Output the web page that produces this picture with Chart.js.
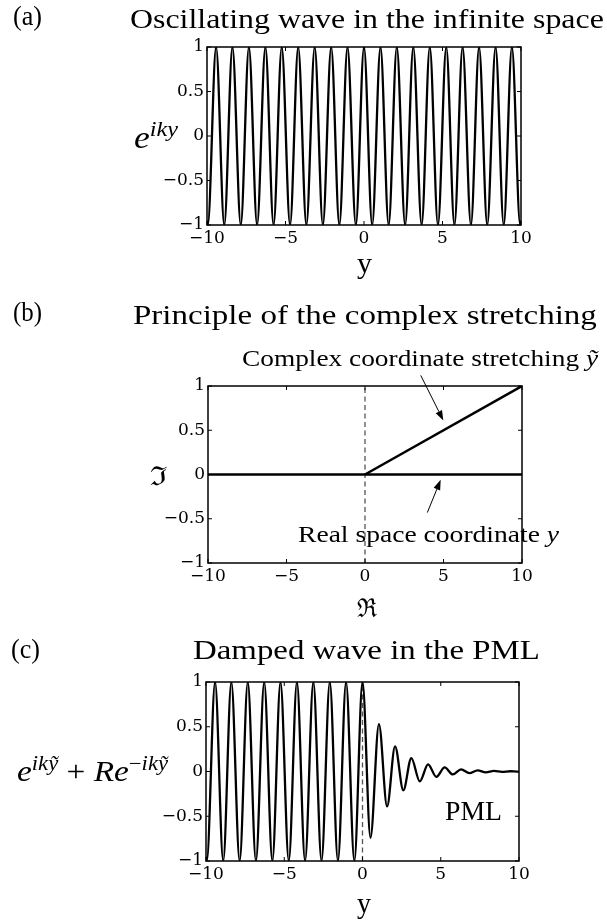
<!DOCTYPE html>
<html>
<head>
<meta charset="utf-8">
<script src="https://cdn.jsdelivr.net/npm/chart.js@4.4.0/dist/chart.umd.min.js"></script>
<style>
  html, body { margin: 0; padding: 0; background: #fff; }
  #figura { position: relative; width: 607px; height: 922px; overflow: hidden; background: #fff; }
  #figura canvas { position: absolute; left: 0; }
  .rotulo { position: absolute; white-space: nowrap; line-height: 1; font-family: "Liberation Serif", serif; color: #000; transform-origin: 0 0; z-index: 2; }
  .rotulo sup { font-size: 0.68em; vertical-align: baseline; position: relative; top: -0.55em; line-height: 0; }
</style>
</head>
<body>
<div id="figura">
  <canvas id="grafico-a" width="607" height="290" style="top:0px"></canvas>
  <canvas id="grafico-b" width="607" height="330" style="top:300px"></canvas>
  <canvas id="grafico-c" width="607" height="292" style="top:630px"></canvas>
</div>
<script>
// Marcas dos eixos (iguais nos tres paineis)
const ticksX = [-10, -5, 0, 5, 10];
const ticksY = [-1, -0.5, 0, 0.5, 1];

// (a) onda oscilante: extremos
const ondaX = [-10, -9.95, -9.42, -8.90, -8.38, -7.85, -7.33, -6.81, -6.28, -5.76, -5.24,
  -4.71, -4.19, -3.67, -3.14, -2.62, -2.09, -1.57, -1.05, -0.52, 0,
  0.52, 1.05, 1.57, 2.09, 2.62, 3.14, 3.67, 4.19, 4.71, 5.24,
  5.76, 6.28, 6.81, 7.33, 7.85, 8.38, 8.90, 9.42, 9.95, 10];
const ondaY = [-0.95, -1, 1, -1, 1, -1, 1, -1, 1, -1, 1,
  -1, 1, -1, 1, -1, 1, -1, 1, -1, 1,
  -1, 1, -1, 1, -1, 1, -1, 1, -1, 1,
  -1, 1, -1, 1, -1, 1, -1, 1, -1, -0.95];

// (b) estiramento complexo
const realX = [-10, 10];
const realY = [0, 0];
const esticadoX = [0, 10];
const esticadoY = [0, 1];
const zeroX = [0, 0];
const zeroY = [-1, 1];

// (c) onda amortecida na PML
const pmlX = [-10, -9.95, -9.42, -8.90, -8.38, -7.85, -7.33, -6.81, -6.28, -5.76, -5.24,
  -4.71, -4.19, -3.67, -3.14, -2.62, -2.09, -1.57, -1.05, -0.52, 0,
  0.51, 1.05, 1.57, 2.08, 2.61, 3.12, 3.66, 4.19, 4.72, 5.25,
  5.77, 6.30, 6.83, 7.36, 7.88, 8.40, 8.92, 9.44, 9.95, 10];
const pmlY = [-0.95, -1, 1, -1, 1, -1, 1, -1, 1, -1, 1,
  -1, 1, -1, 1, -1, 1, -1, 1, -1, 1,
  -0.74, 0.53, -0.39, 0.28, -0.21, 0.15, -0.11, 0.08, -0.06, 0.045,
  -0.033, 0.024, -0.018, 0.013, -0.009, 0.006, -0.004, 0.003, -0.002, 0];

// Setas das anotacoes do painel (b), em unidades dos eixos
const setasB = [
  { de: [3.55, 1.12], para: [4.99, 0.61] },
  { de: [3.97, -0.43], para: [4.82, -0.06] }
];

function pontos(xs, ys) {
  return xs.map((v, i) => ({ x: v, y: ys[i] }));
}

function formatarTick(v) {
  return String(v).replace('-', '\u2212');
}

// Caixa do eixo com marcas para dentro nos quatro lados
const caixaPlugin = {
  id: 'caixa',
  afterDatasetsDraw(chart) {
    const { ctx, chartArea: a, scales: { x, y } } = chart;
    const tam = 4;
    ctx.save();
    ctx.strokeStyle = '#000';
    ctx.lineWidth = 1;
    ctx.beginPath();
    x.ticks.forEach(t => {
      const px = x.getPixelForValue(t.value);
      ctx.moveTo(px, a.bottom); ctx.lineTo(px, a.bottom - tam);
      ctx.moveTo(px, a.top); ctx.lineTo(px, a.top + tam);
    });
    y.ticks.forEach(t => {
      const py = y.getPixelForValue(t.value);
      ctx.moveTo(a.left, py); ctx.lineTo(a.left + tam, py);
      ctx.moveTo(a.right, py); ctx.lineTo(a.right - tam, py);
    });
    ctx.stroke();
    ctx.lineWidth = 1.5;
    ctx.strokeRect(a.left, a.top, a.right - a.left, a.bottom - a.top);
    ctx.restore();
  }
};

const setasPlugin = {
  id: 'setas',
  afterDraw(chart, args, opts) {
    if (!opts.lista) return;
    const { ctx, scales: { x, y } } = chart;
    ctx.save();
    ctx.strokeStyle = '#000';
    ctx.fillStyle = '#000';
    ctx.lineWidth = 1;
    opts.lista.forEach(s => {
      const x0 = x.getPixelForValue(s.de[0]), y0 = y.getPixelForValue(s.de[1]);
      const x1 = x.getPixelForValue(s.para[0]), y1 = y.getPixelForValue(s.para[1]);
      const ang = Math.atan2(y1 - y0, x1 - x0);
      const cab = 10, larg = 3.5;
      const bx = x1 - cab * Math.cos(ang), by = y1 - cab * Math.sin(ang);
      ctx.beginPath();
      ctx.moveTo(x0, y0);
      ctx.lineTo(bx, by);
      ctx.stroke();
      ctx.beginPath();
      ctx.moveTo(x1, y1);
      ctx.lineTo(bx + larg * Math.sin(ang), by - larg * Math.cos(ang));
      ctx.lineTo(bx - larg * Math.sin(ang), by + larg * Math.cos(ang));
      ctx.closePath();
      ctx.fill();
    });
    ctx.restore();
  }
};

function linhaOnda(xs, ys) {
  return {
    data: pontos(xs, ys),
    showLine: true,
    borderColor: '#000',
    borderWidth: 2.3,
    pointRadius: 0,
    cubicInterpolationMode: 'monotone',
    fill: false
  };
}

function linhaReta(xs, ys, largura) {
  return {
    data: pontos(xs, ys),
    showLine: true,
    borderColor: '#000',
    borderWidth: largura,
    pointRadius: 0,
    fill: false
  };
}

function linhaTracejada() {
  return {
    data: pontos(zeroX, zeroY),
    showLine: true,
    borderColor: '#555',
    borderWidth: 1.3,
    borderDash: [5, 3.5],
    pointRadius: 0,
    fill: false
  };
}

function criarGrafico(id, datasets, area, setas) {
  const fonteTick = { family: 'DejaVu Serif', size: 17 };
  return new Chart(document.getElementById(id), {
    type: 'scatter',
    data: { datasets: datasets },
    options: {
      responsive: false,
      animation: false,
      events: [],
      layout: { padding: { left: 0, top: area.topo, right: area.direita, bottom: area.baixo } },
      plugins: {
        legend: { display: false },
        tooltip: { enabled: false },
        setas: { lista: setas }
      },
      scales: {
        x: {
          type: 'linear',
          min: -10,
          max: 10,
          afterBuildTicks: s => { s.ticks = ticksX.map(v => ({ value: v })); },
          afterFit: s => { s.height = 28; },
          grid: { display: false, drawTicks: false },
          border: { display: false },
          ticks: { color: '#000', font: fonteTick, padding: 3, maxRotation: 0, autoSkip: false, callback: formatarTick }
        },
        y: {
          type: 'linear',
          min: -1,
          max: 1,
          afterBuildTicks: s => { s.ticks = ticksY.map(v => ({ value: v })); },
          afterFit: s => { s.width = area.esquerda; },
          grid: { display: false, drawTicks: false },
          border: { display: false },
          ticks: { color: '#000', font: fonteTick, padding: 3, autoSkip: false, callback: formatarTick }
        }
      }
    },
    plugins: [caixaPlugin, setasPlugin]
  });
}

criarGrafico('grafico-a', [linhaOnda(ondaX, ondaY)],
  { esquerda: 207, topo: 47, direita: 86, baixo: 37 }, null);

criarGrafico('grafico-b', [
  linhaReta(esticadoX, esticadoY, 2.5),
  linhaReta(realX, realY, 2.5),
  linhaTracejada()
], { esquerda: 208, topo: 86, direita: 85, baixo: 39 }, setasB);

criarGrafico('grafico-c', [linhaOnda(pmlX, pmlY), linhaTracejada()],
  { esquerda: 206, topo: 52, direita: 88, baixo: 33 }, null);

// Textos: titulos, rotulos dos eixos e anotacoes
const rotulos = [
  { html: '(a)', x: 13, base: 26, tam: 27, larg: 29 },
  { html: 'Oscillating wave in the infinite space', x: 130, base: 28, tam: 28, larg: 474 },
  { html: '<i>e</i><sup><i>iky</i></sup>', x: 134, base: 148, tam: 31, larg: 44 },
  { html: 'y', x: 357, base: 273, tam: 30, larg: 15 },
  { html: '(b)', x: 13, base: 322, tam: 27, larg: 29 },
  { html: 'Principle of the complex stretching', x: 133, base: 324, tam: 28, larg: 464 },
  { html: 'Complex coordinate stretching <i>ỹ</i>', x: 242, base: 366, tam: 24, larg: 356 },
  { html: 'Real space coordinate <i>y</i>', x: 298, base: 542, tam: 24, larg: 261 },
  { html: 'ℑ', x: 150, base: 485, tam: 26, larg: 18, fonte: 'DejaVu Serif' },
  { html: 'ℜ', x: 357, base: 617, tam: 26, larg: 20, fonte: 'DejaVu Serif' },
  { html: '(c)', x: 11, base: 659, tam: 27, larg: 29 },
  { html: 'Damped wave in the PML', x: 193, base: 659, tam: 28, larg: 347 },
  { html: '<i>e</i><sup><i>ikỹ</i></sup> + <i>Re</i><sup>−<i>ikỹ</i></sup>', x: 17, base: 781, tam: 30, larg: 151 },
  { html: 'y', x: 357, base: 913, tam: 30, larg: 14 },
  { html: 'PML', x: 445, base: 820, tam: 28, larg: 57 }
];

const figura = document.getElementById('figura');
rotulos.forEach(r => {
  const el = document.createElement('div');
  el.className = 'rotulo';
  el.innerHTML = r.html;
  el.style.fontSize = r.tam + 'px';
  if (r.fonte) el.style.fontFamily = '"' + r.fonte + '", serif';
  el.style.left = r.x + 'px';
  el.style.top = (r.base - 0.8375 * r.tam) + 'px';
  figura.appendChild(el);
  const largura = el.getBoundingClientRect().width;
  el.style.transform = 'scaleX(' + (r.larg / largura).toFixed(3) + ')';
});
</script>
</body>
</html>
